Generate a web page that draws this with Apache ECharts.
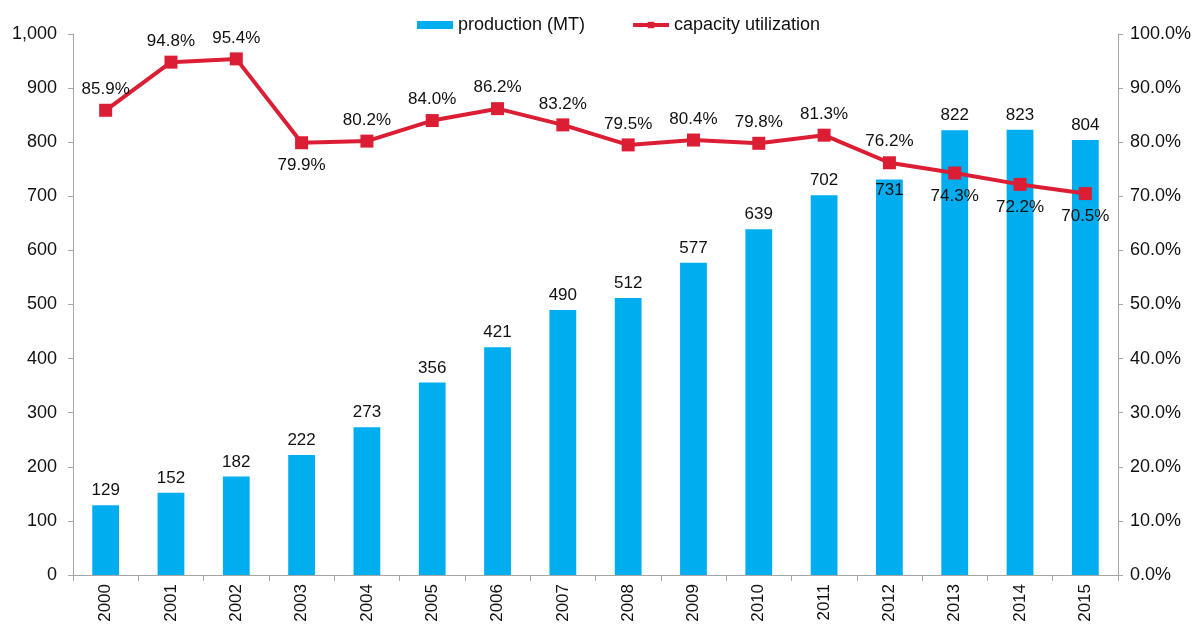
<!DOCTYPE html>
<html>
<head>
<meta charset="utf-8">
<script src="https://cdn.jsdelivr.net/npm/echarts@6/dist/echarts.min.js"></script>
<style>
  html, body { margin: 0; padding: 0; background: #fff; }
  #chart { width: 1200px; height: 628px; }
</style>
</head>
<body>
<div id="chart"></div>
<script>
const years = ['2000', '2001', '2002', '2003', '2004', '2005', '2006', '2007',
  '2008', '2009', '2010', '2011', '2012', '2013', '2014', '2015']
const production = [129, 152, 182, 222, 273, 356, 421, 490, 512, 577, 639, 702, 731, 822, 823, 804]
const utilization = [85.9, 94.8, 95.4, 79.9, 80.2, 84.0, 86.2, 83.2, 79.5, 80.4, 79.8, 81.3, 76.2, 74.3, 72.2, 70.5]
// labels drawn under the point instead of above
const belowLabels = ['2003', '2013', '2014', '2015']

const FONT = 'Liberation Sans'
const chart = echarts.init(document.getElementById('chart'))

const axisCommon = {
  axisLine: { show: true, lineStyle: { color: '#a6a6a6', width: 1 } },
  axisTick: { show: true, length: 5, lineStyle: { color: '#a6a6a6' } },
  splitLine: { show: false },
}

chart.setOption({
  animation: false,
  textStyle: { fontFamily: FONT },
  legend: {
    top: 11,
    left: 412,
    itemGap: 46,
    itemWidth: 36,
    itemHeight: 8,
    textStyle: { fontSize: 18, color: '#111', fontFamily: FONT },
    data: [
      { name: 'production (MT)', icon: 'rect' },
      { name: 'capacity utilization', lineStyle: { width: 4 } },
    ],
  },
  grid: { left: 73, right: 82, top: 34, bottom: 53 },
  xAxis: {
    type: 'category',
    data: years,
    ...axisCommon,
    axisTick: { show: true, length: 6, interval: 0, lineStyle: { color: '#a6a6a6' } },
    axisLabel: { rotate: 90, fontSize: 17, color: '#111', margin: 9, interval: 0 },
  },
  yAxis: [
    {
      type: 'value',
      min: 0,
      max: 1000,
      interval: 100,
      ...axisCommon,
      axisLabel: {
        fontSize: 18, color: '#111', margin: 16,
        formatter: (v) => v.toLocaleString('en-US'),
      },
    },
    {
      type: 'value',
      min: 0,
      max: 100,
      interval: 10,
      position: 'right',
      ...axisCommon,
      axisLabel: {
        fontSize: 18, color: '#111', margin: 12,
        formatter: (v) => v.toFixed(1) + '%',
      },
    },
  ],
  series: [
    {
      name: 'production (MT)',
      type: 'bar',
      barWidth: '41%',
      itemStyle: { color: '#00adef' },
      label: { show: true, position: 'top', fontSize: 17, color: '#111', distance: 6 },
      data: production.map((v, i) => years[i] === '2012'
        ? { value: v, label: { position: 'insideTop', distance: 2 } }
        : v),
    },
    {
      name: 'capacity utilization',
      type: 'line',
      yAxisIndex: 1,
      symbol: 'rect',
      symbolSize: 13,
      lineStyle: { color: '#dc1e35', width: 4 },
      itemStyle: { color: '#dc1e35' },
      z: 5,
      label: {
        show: true, position: 'top', fontSize: 17, color: '#111', distance: 6,
        formatter: (p) => p.value.toFixed(1) + '%',
      },
      data: utilization.map((v, i) => belowLabels.includes(years[i])
        ? { value: v, label: { position: 'bottom', distance: 8 } }
        : v),
    },
  ],
})
</script>
</body>
</html>
